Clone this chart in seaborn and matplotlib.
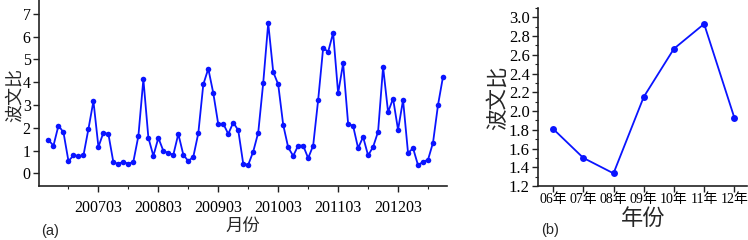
import numpy as np
import pandas as pd
import seaborn as sns
import matplotlib.pyplot as plt
from matplotlib.ticker import MultipleLocator, FixedLocator

# monthly Bowen ratio, 200605 .. 201212 (80 months)
monthly_ratio = [1.46, 1.22, 2.10, 1.80, 0.54, 0.79, 0.77, 0.79, 1.95, 3.17,
                 1.16, 1.79, 1.72, 0.48, 0.42, 0.52, 0.41, 0.52, 1.64, 4.13,
                 1.57, 0.77, 1.56, 0.99, 0.89, 0.82, 1.73, 0.82, 0.54, 0.73,
                 1.76, 3.90, 4.59, 3.52, 2.15, 2.18, 1.73, 2.23, 1.89, 0.42,
                 0.38, 0.96, 1.79, 3.97, 6.59, 4.45, 3.90, 2.13, 1.14, 0.77,
                 1.22, 1.22, 0.67, 1.22, 3.22, 5.50, 5.33, 6.16, 3.51, 4.83,
                 2.18, 2.08, 1.11, 1.60, 0.79, 1.16, 1.83, 4.67, 2.69, 3.28,
                 1.91, 3.22, 0.89, 1.11, 0.36, 0.51, 0.60, 1.35, 3.00, 4.24]
month_idx = list(range(len(monthly_ratio)))
month_tick_pos = [10, 22, 34, 46, 58, 70]
month_tick_labels = ['200703', '200803', '200903', '201003', '201103', '201203']

# yearly Bowen ratio
years = ['06年', '07年', '08年', '09年', '10年', '11年', '12年']
yearly_ratio = [1.81, 1.50, 1.335, 2.15, 2.665, 2.93, 1.93]

sns.set_style('ticks')
plt.rcParams['font.family'] = ['Liberation Serif', 'Noto Sans CJK SC']
plt.rcParams['xtick.direction'] = 'out'
plt.rcParams['ytick.direction'] = 'out'

W, H = 748, 240
fig = plt.figure(figsize=(W / 100, H / 100), dpi=100)
blue = '#0a14ff'
cjk = ['Noto Sans CJK SC', 'DejaVu Sans']

# ---- panel (a)
ax1 = fig.add_axes([39 / W, 1 - 186 / H, (447 - 39) / W, 186 / H])
df1 = pd.DataFrame({'idx': month_idx, 'ratio': monthly_ratio})
sns.lineplot(data=df1, x='idx', y='ratio', ax=ax1, color=blue, lw=1.3,
             marker='o', markersize=4, markeredgewidth=0)
ax1.set_xlim(-1.9, 79.8)
ax1.set_ylim(-0.55, 7.6)
ax1.xaxis.set_major_locator(FixedLocator(month_tick_pos))
ax1.set_xticklabels(month_tick_labels)
ax1.xaxis.set_minor_locator(FixedLocator([4, 16, 28, 40, 52, 64, 76]))
ax1.set_yticks(range(0, 8))
ax1.set_xlabel('')
ax1.set_ylabel('')

# ---- panel (b)
ax2 = fig.add_axes([538 / W, 1 - 186 / H, (747 - 538) / W, (186 - 8) / H])
df2 = pd.DataFrame({'year': years, 'ratio': yearly_ratio})
sns.lineplot(data=df2, x='year', y='ratio', ax=ax2, color=blue, lw=1.3,
             marker='o', markersize=5, markeredgewidth=0, sort=False)
ax2.set_xlim(-0.5, 6.42)
ax2.set_ylim(1.2, 3.1)
ax2.yaxis.set_major_locator(MultipleLocator(0.2))
ax2.yaxis.set_minor_locator(MultipleLocator(0.1))
ax2.yaxis.set_major_formatter(plt.FuncFormatter(lambda v, p: f'{v:.1f}'))
ax2.set_xlabel('')
ax2.set_ylabel('')

for ax in (ax1, ax2):
    sns.despine(ax=ax)
    for s in ('left', 'bottom'):
        ax.spines[s].set_linewidth(1.2)
        ax.spines[s].set_color('#222222')
    ax.tick_params(which='major', length=4, width=1.0, colors='#222222',
                   labelcolor='black', pad=2)
    ax.tick_params(which='minor', length=2.5, width=0.8, colors='#222222')

ax1.tick_params(axis='y', labelsize=11.5)
ax1.tick_params(axis='x', labelsize=11.5, pad=6)
ax2.tick_params(axis='y', labelsize=12)
ax2.tick_params(axis='x', labelsize=10, pad=1)

# axis titles and panel letters
fig.text(15 / W, 1 - 95 / H, '波文比', family=cjk, fontsize=13,
         rotation=90, ha='center', va='center')
fig.text(243 / W, 1 - 226 / H, '月份', family=cjk, fontsize=12.5,
         ha='center', va='center')
fig.text(498 / W, 1 - 98 / H, '波文比', family=cjk, fontsize=15.5,
         rotation=90, ha='center', va='center')
fig.text(643 / W, 1 - 218 / H, '年份', family=cjk, fontsize=16,
         ha='center', va='center')
fig.text(50 / W, 1 - 231 / H, '(a)', family='Liberation Sans', fontsize=10.5,
         ha='center', va='center')
fig.text(550 / W, 1 - 230 / H, '(b)', family='Liberation Sans', fontsize=10.5,
         ha='center', va='center')

fig.savefig('out.png', dpi=100)
